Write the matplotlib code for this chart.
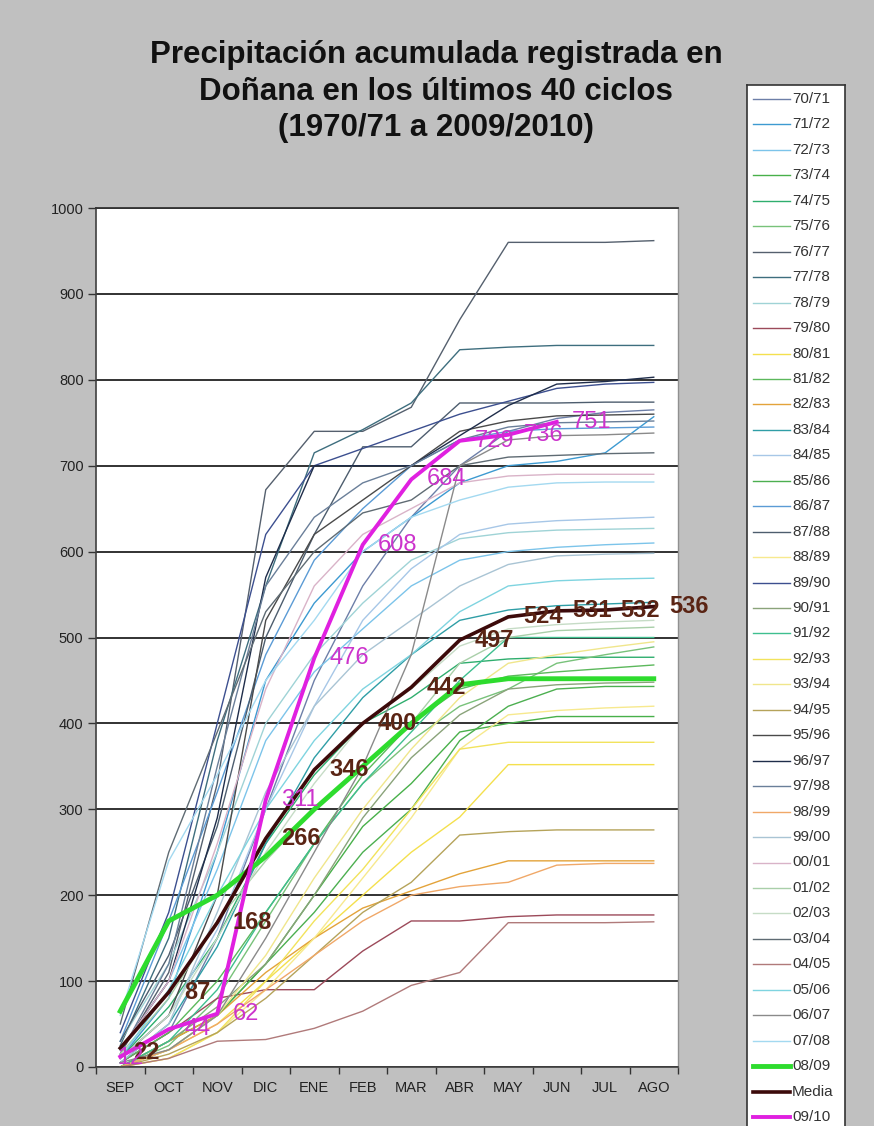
import numpy as np
import matplotlib.pyplot as plt

plt.rcParams['font.family'] = ['Liberation Sans', 'DejaVu Sans']

# Meses del ciclo hidrologico
meses = ['SEP', 'OCT', 'NOV', 'DIC', 'ENE', 'FEB', 'MAR', 'ABR', 'MAY', 'JUN', 'JUL', 'AGO']

# Precipitacion acumulada (mm) por ciclo
p70_71 = [5, 40, 150, 300, 450, 560, 640, 700, 740, 755, 762, 765]
p71_72 = [10, 80, 250, 450, 540, 600, 640, 680, 700, 705, 715, 757]
p72_73 = [20, 100, 230, 380, 460, 510, 560, 590, 600, 605, 608, 610]
p73_74 = [0, 30, 60, 120, 200, 280, 330, 390, 400, 408, 408, 408]
p74_75 = [10, 70, 150, 260, 340, 400, 430, 470, 475, 477, 477, 477]
p75_76 = [0, 25, 80, 170, 260, 330, 380, 420, 440, 470, 480, 489]
p76_77 = [15, 110, 330, 672, 740, 740, 768, 870, 960, 960, 960, 962]
p77_78 = [25, 150, 380, 560, 715, 742, 773, 835, 838, 840, 840, 840]
p78_79 = [30, 120, 250, 400, 480, 540, 590, 615, 622, 625, 626, 627]
p79_80 = [5, 40, 80, 90, 90, 135, 170, 170, 175, 177, 177, 177]
p80_81 = [0, 20, 50, 100, 150, 200, 250, 291, 352, 352, 352, 352]
p81_82 = [5, 40, 100, 180, 260, 340, 400, 440, 455, 460, 464, 468]
p82_83 = [0, 30, 60, 110, 150, 185, 205, 225, 240, 240, 240, 240]
p83_84 = [5, 50, 140, 260, 360, 430, 480, 520, 532, 537, 539, 541]
p84_85 = [10, 60, 160, 300, 420, 520, 580, 620, 632, 636, 638, 640]
p85_86 = [0, 20, 60, 120, 180, 250, 300, 380, 420, 440, 443, 443]
p86_87 = [30, 170, 320, 480, 590, 650, 700, 730, 740, 743, 744, 745]
p87_88 = [30, 130, 280, 500, 620, 722, 722, 773, 773, 773, 774, 774]
p88_89 = [0, 10, 40, 90, 150, 220, 290, 370, 410, 415, 418, 420]
p89_90 = [40, 180, 400, 620, 700, 720, 740, 760, 775, 790, 795, 797]
p90_91 = [0, 30, 70, 120, 200, 290, 360, 410, 440, 445, 447, 448]
p91_92 = [0, 30, 90, 180, 260, 330, 390, 450, 500, 500, 500, 500]
p92_93 = [0, 10, 40, 100, 170, 230, 300, 370, 378, 378, 378, 378]
p93_94 = [0, 20, 60, 130, 220, 300, 370, 430, 470, 480, 488, 495]
p94_95 = [0, 15, 40, 80, 130, 180, 215, 270, 274, 276, 276, 276]
p95_96 = [10, 60, 200, 520, 620, 660, 700, 740, 752, 758, 759, 760]
p96_97 = [20, 100, 290, 570, 700, 700, 700, 735, 770, 795, 798, 803]
p97_98 = [15, 120, 350, 560, 640, 680, 700, 730, 745, 750, 751, 752]
p98_99 = [0, 20, 50, 90, 130, 170, 200, 210, 215, 235, 237, 237]
p99_00 = [5, 50, 180, 320, 420, 480, 520, 560, 585, 595, 597, 598]
p00_01 = [20, 100, 260, 440, 560, 620, 650, 680, 688, 690, 690, 690]
p01_02 = [15, 80, 170, 240, 300, 350, 400, 470, 500, 508, 510, 512]
p02_03 = [10, 60, 150, 250, 330, 400, 440, 490, 510, 515, 518, 520]
p03_04 = [50, 250, 390, 530, 600, 645, 660, 700, 710, 712, 714, 715]
p04_05 = [0, 10, 30, 32, 45, 65, 95, 110, 168, 168, 168, 169]
p05_06 = [10, 90, 200, 300, 380, 440, 480, 530, 560, 566, 568, 569]
p06_07 = [5, 20, 60, 150, 250, 350, 480, 700, 730, 735, 736, 738]
p07_08 = [60, 240, 340, 450, 520, 600, 640, 660, 675, 680, 681, 681]
p08_09 = [65, 170, 200, 245, 300, 350, 400, 445, 452, 452, 452, 452]
media = [22, 87, 168, 266, 346, 400, 442, 497, 524, 531, 532, 536]
p09_10 = [12, 44, 62, 311, 476, 608, 684, 729, 736, 751]

ciclos = ['70/71', '71/72', '72/73', '73/74', '74/75', '75/76', '76/77', '77/78',
          '78/79', '79/80', '80/81', '81/82', '82/83', '83/84', '84/85', '85/86',
          '86/87', '87/88', '88/89', '89/90', '90/91', '91/92', '92/93', '93/94',
          '94/95', '95/96', '96/97', '97/98', '98/99', '99/00', '00/01', '01/02',
          '02/03', '03/04', '04/05', '05/06', '06/07', '07/08']
series = [p70_71, p71_72, p72_73, p73_74, p74_75, p75_76, p76_77, p77_78,
          p78_79, p79_80, p80_81, p81_82, p82_83, p83_84, p84_85, p85_86,
          p86_87, p87_88, p88_89, p89_90, p90_91, p91_92, p92_93, p93_94,
          p94_95, p95_96, p96_97, p97_98, p98_99, p99_00, p00_01, p01_02,
          p02_03, p03_04, p04_05, p05_06, p06_07, p07_08]
colores = ['#6d7fa8', '#3d9ad1', '#7cc4ea', '#48b04a', '#2fae6e', '#78c27a', '#55606e', '#3e6e7e',
           '#9fd3d6', '#9c4a5a', '#f4e04d', '#5cb85c', '#e3a33a', '#2f9ea6', '#a7c7e7', '#4caf50',
           '#5b9bd5', '#4d5d6e', '#f7e98e', '#3c4f8f', '#8aa37a', '#3fbf8f', '#f2e35c', '#f0e68c',
           '#b5a35a', '#4a4a4a', '#1f2d4a', '#6a7f99', '#f0a868', '#a9c4d4', '#d9b3c8', '#a9cfa9',
           '#c6dcc6', '#5f6b73', '#b07a7a', '#7fd4e0', '#8a8a8a', '#a3d9f0']

W, H = 874, 1126
fig = plt.figure(figsize=(W / 100, H / 100), dpi=100)
fig.patch.set_facecolor('#c0c0c0')

# Plot area
ax = fig.add_axes([96 / W, 1 - 1067 / H, 582 / W, 859 / H])
ax.set_facecolor('white')
x = np.arange(len(meses))

for vals, col in zip(series, colores):
    ax.plot(x, vals, color=col, lw=1.0)

ax.plot(x, p08_09, color='#2edc2e', lw=3.5)
ax.plot(x, media, color='#3c0a0a', lw=2.6)
ax.plot(x[:len(p09_10)], p09_10, color='#e020e0', lw=2.8)

# data labels (first labels of both series overlap as in the original)
for i, (xi, v) in enumerate(zip(x, media)):
    ax.annotate(str(v), (xi, v), xytext=(11 if i else 9, 0 if i else -3),
                textcoords='offset points', ha='left', va='center',
                fontsize=17, fontweight='bold', color='#5a2414')
for i, (xi, v) in enumerate(zip(x, p09_10)):
    ax.annotate(str(v), (xi, v), xytext=(11 if i else -2, 0 if i else -1),
                textcoords='offset points', ha='left', va='center',
                fontsize=17, color='#cc33cc')

ax.set_xlim(-0.5, 11.5)
ax.set_ylim(0, 1000)
ax.set_yticks(np.arange(0, 1001, 100))
ax.yaxis.grid(True, color='#222222', lw=1.3)
ax.set_axisbelow(True)
ax.set_xticks(x)
ax.set_xticklabels(meses)
ax.set_xticks(np.arange(-0.5, 12, 1), minor=True)
ax.tick_params(axis='x', which='major', length=0, pad=10, labelsize=10.5, colors='#222222')
ax.tick_params(axis='x', which='minor', length=5, width=1, color='#333333')
ax.tick_params(axis='y', length=6, width=1, color='#333333', labelsize=10.5, labelcolor='#222222', pad=3)
for s in ['left', 'bottom']:
    ax.spines[s].set_color('#404040')
    ax.spines[s].set_linewidth(1.2)
ax.spines['top'].set_color('#333333')
ax.spines['top'].set_linewidth(1.3)
ax.spines['right'].set_color('#909090')
ax.spines['right'].set_linewidth(1.0)

# Title
titulo = ['Precipitación acumulada registrada en',
          'Doñana en los últimos 40 ciclos',
          '(1970/71 a 2009/2010)']
for i, t in enumerate(titulo):
    fig.text(436 / W, 1 - (63 + 36.5 * i) / H, t, ha='center', va='baseline',
             fontsize=22.5, fontweight='bold', color='#111111')

# Legend box
lx0, lx1, ly0 = 747, 845, 85
lax = fig.add_axes([lx0 / W, -0.01, (lx1 - lx0) / W, 1 - ly0 / H + 0.01])
lax.set_xlim(0, lx1 - lx0)
lax.set_ylim(H - ly0 + 0.01 * H, 0)
lax.set_facecolor('white')
lax.set_xticks([])
lax.set_yticks([])
for s in lax.spines.values():
    s.set_color('#333333')
    s.set_linewidth(1.2)

nombres = ciclos + ['08/09', 'Media', '09/10']
col_leg = colores + ['#2edc2e', '#3c0a0a', '#e020e0']
lw_leg = [1.0] * len(ciclos) + [3.5, 2.6, 2.8]
for i, (n, c, lw) in enumerate(zip(nombres, col_leg, lw_leg)):
    yy = 99 + i * 25.45 - ly0
    lax.plot([6, 43], [yy, yy], color=c, lw=lw)
    lax.text(45, yy, n, ha='left', va='center', fontsize=11, color='#333333')

fig.savefig('out.png', dpi=100, facecolor=fig.get_facecolor())
